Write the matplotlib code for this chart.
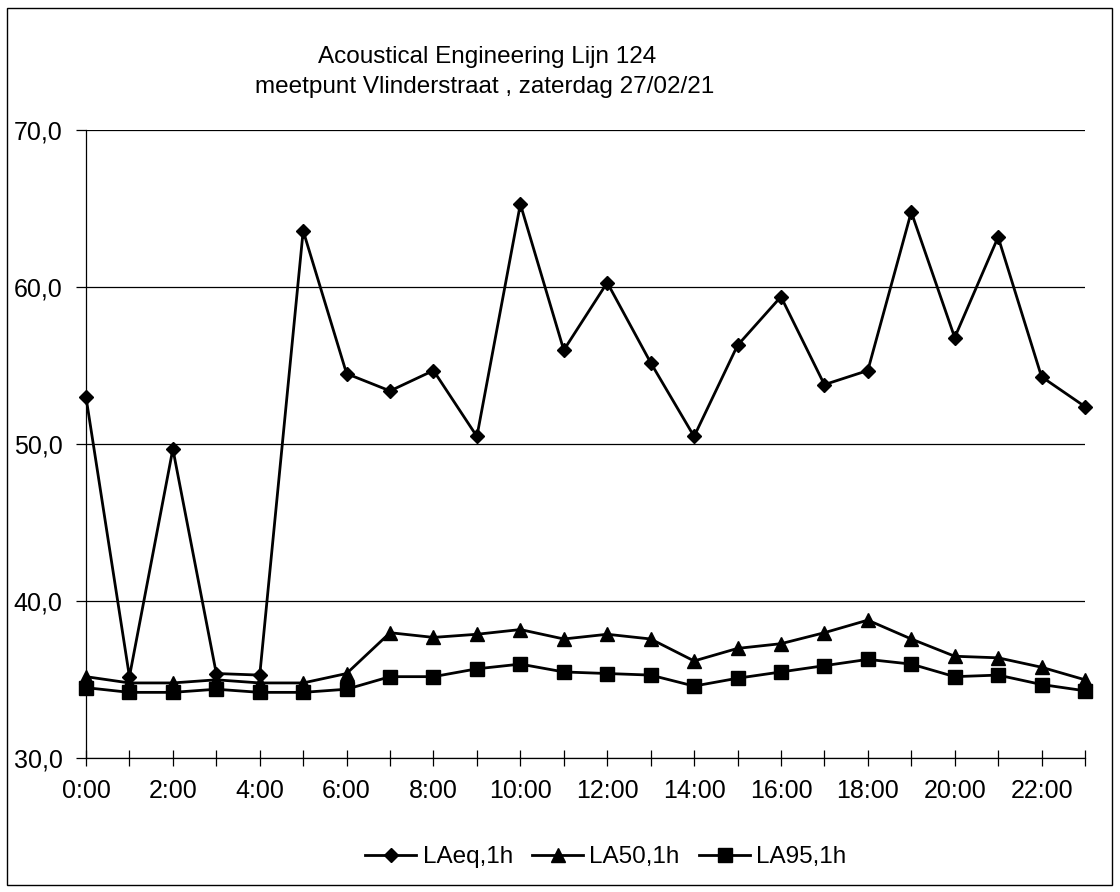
import matplotlib.pyplot as plt
from matplotlib.patches import Rectangle
from matplotlib.ticker import FuncFormatter

plt.rcParams['font.family'] = ['Liberation Sans', 'DejaVu Sans']

hours = list(range(24))
hour_labels = ['%d:00' % h if h % 2 == 0 else '' for h in hours]

laeq = [53.0, 35.2, 49.7, 35.4, 35.3, 63.6, 54.5, 53.4, 54.7, 50.5, 65.3, 56.0,
        60.3, 55.2, 50.5, 56.3, 59.4, 53.8, 54.7, 64.8, 56.8, 63.2, 54.3, 52.4]
la50 = [35.2, 34.8, 34.8, 35.0, 34.8, 34.8, 35.4, 38.0, 37.7, 37.9, 38.2, 37.6,
        37.9, 37.6, 36.2, 37.0, 37.3, 38.0, 38.8, 37.6, 36.5, 36.4, 35.8, 35.0]
la95 = [34.5, 34.2, 34.2, 34.4, 34.2, 34.2, 34.4, 35.2, 35.2, 35.7, 36.0, 35.5,
        35.4, 35.3, 34.6, 35.1, 35.5, 35.9, 36.3, 36.0, 35.2, 35.3, 34.7, 34.3]

W, H = 1120, 892
fig = plt.figure(figsize=(W / 100, H / 100), dpi=100)
ax = fig.add_axes([86 / W, 1 - 758.3 / H, (1085 - 86) / W, (758.3 - 130.3) / H])

ax.plot(hours, laeq, color='black', lw=2, marker='D', ms=7, label='LAeq,1h', clip_on=False)
ax.plot(hours, la50, color='black', lw=2, marker='^', ms=10, label='LA50,1h', clip_on=False)
ax.plot(hours, la95, color='black', lw=2, marker='s', ms=9.5, label='LA95,1h', clip_on=False)

ax.set_xlim(0, 23)
ax.set_ylim(30, 70)
ax.set_yticks([30, 40, 50, 60, 70])
ax.yaxis.set_major_formatter(FuncFormatter(lambda v, p: ('%.1f' % v).replace('.', ',')))
ax.set_xticks(hours)
ax.set_xticklabels(hour_labels)
ax.grid(axis='y', color='black', lw=0.9)
ax.set_axisbelow(True)
for s in ['top', 'right']:
    ax.spines[s].set_visible(False)
ax.spines['left'].set_linewidth(0.9)
ax.spines['bottom'].set_linewidth(0.9)
ax.tick_params(axis='y', direction='out', length=7, width=0.9, pad=10, labelsize=18)
ax.tick_params(axis='x', direction='inout', length=12, width=0.9, pad=9, labelsize=18)

fig.text(487 / W, 1 - 63 / H, 'Acoustical Engineering Lijn 124',
         ha='center', va='baseline', fontsize=17.5)
fig.text(485 / W, 1 - 93 / H, 'meetpunt Vlinderstraat , zaterdag 27/02/21',
         ha='center', va='baseline', fontsize=17.5)

fig.legend(loc='center', bbox_to_anchor=(606 / W, 1 - 857 / H), ncol=3, frameon=False,
           fontsize=17.5, handlelength=2.1, handletextpad=0.25, columnspacing=0.8)

fig.patches.append(Rectangle((7 / W, 7 / H), (W - 15) / W, (H - 15) / H, transform=fig.transFigure,
                             fill=False, edgecolor='black', lw=1))

fig.savefig('out.png', dpi=100)
